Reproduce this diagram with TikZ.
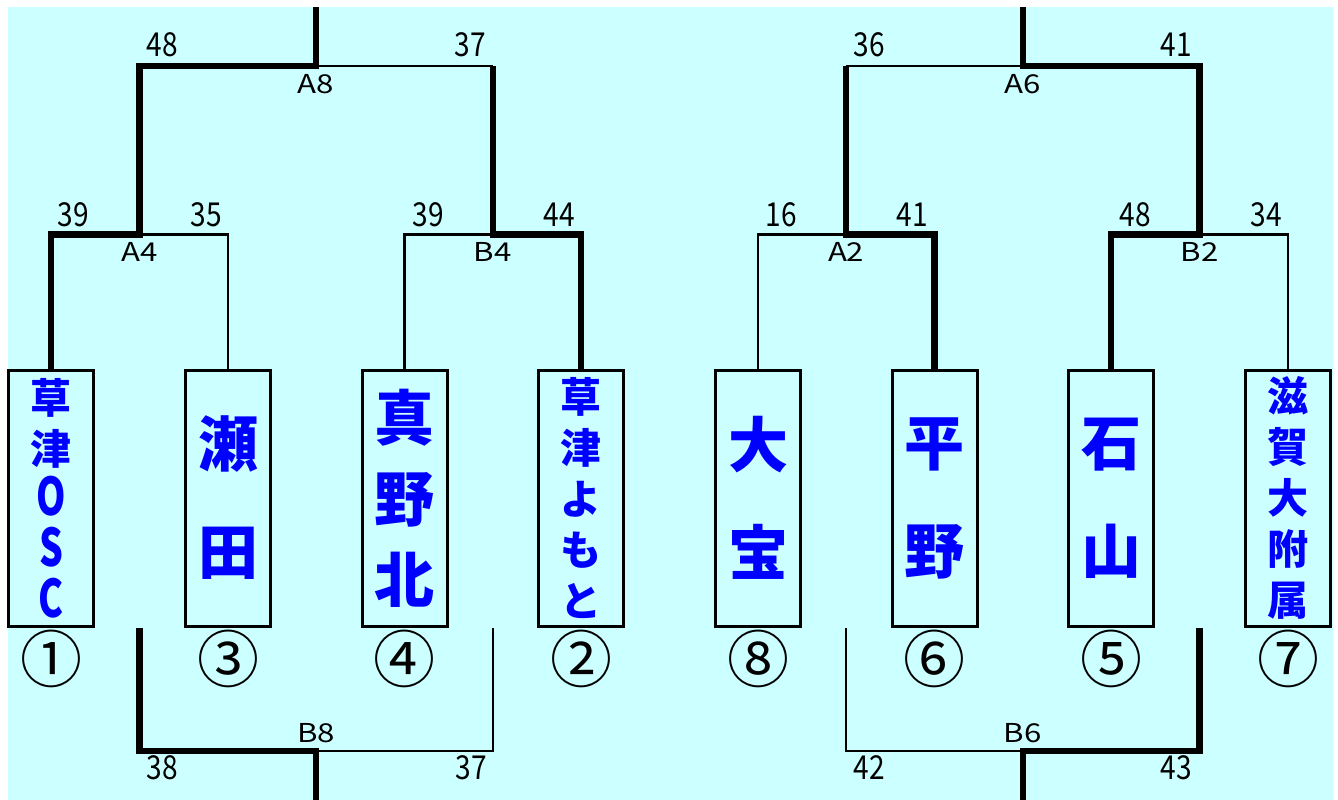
\documentclass[tikz,border=0pt]{standalone}
\usepackage{fontspec}
\setmainfont{Noto Sans CJK JP}
\newfontfamily\jpfont{Noto Sans CJK JP}
\newfontfamily\scorefont{Noto Sans CJK JP}[FakeStretch=0.85]
\newfontfamily\gamefont{Noto Sans CJK JP}[FakeStretch=1.2]
\usetikzlibrary{positioning,calc}
\definecolor{bgcyan}{RGB}{204,255,255}
\definecolor{teamblue}{RGB}{0,0,255}
\newcommand{\tallchar}[1]{{\fontsize{52}{51}\selectfont\scalebox{0.72}[1]{#1}}}

\begin{document}
\begin{tikzpicture}[x=1pt, y=-1pt,
    team/.style={draw, line width=3pt, fill=bgcyan, minimum width=85pt, minimum height=256pt, inner sep=0pt, align=center, text=teamblue},
    teamfive/.style={team, font=\jpfont\bfseries\fontsize{41}{51}\selectfont},
    teamthree/.style={team, font=\jpfont\bfseries\fontsize{60}{81}\selectfont},
    teamtwo/.style={team, font=\jpfont\bfseries\fontsize{60}{108}\selectfont},
    win/.style={line width=6.5pt},
    lose/.style={line width=2.5pt},
    score/.style={font=\scorefont\fontsize{33}{33}\selectfont},
    game/.style={font=\gamefont\fontsize{26}{26}\selectfont},
    seed/.style={font=\jpfont\fontsize{62}{62}\selectfont}
]

% Background
\useasboundingbox (0,0) rectangle (1338,800);
\fill[bgcyan] (8,7) rectangle (1333,800);

% Teams
\node[teamfive] (b1) at (51,498) {草\\津\\\tallchar{O}\\\tallchar{S}\\\tallchar{C}};
\node[teamtwo] (b3) at (228,498) {瀬\\田};
\node[teamthree] (b4) at (404.5,498) {真\\野\\北};
\node[teamfive] (b2) at (581,498) {草\\津\\よ\\も\\と};
\node[teamtwo] (b8) at (758,498) {大\\宝};
\node[teamtwo] (b6) at (934.5,498) {平\\野};
\node[teamtwo] (b5) at (1111,498) {石\\山};
\node[teamfive] (b7) at (1288,498) {滋\\賀\\大\\附\\属};

% Seeds
\node[seed] (s1) at (51,659) {①};
\node[seed] (s3) at (228,659) {③};
\node[seed] (s4) at (404.5,659) {④};
\node[seed] (s2) at (581,659) {②};
\node[seed] (s8) at (758,659) {⑧};
\node[seed] (s6) at (934.5,659) {⑥};
\node[seed] (s5) at (1111,659) {⑤};
\node[seed] (s7) at (1288,659) {⑦};

% Junctions
\coordinate (A4) at (139.5,234.5);
\coordinate (B4) at (492.75,234.5);
\coordinate (A2) at (846.15,234.5);
\coordinate (B2) at (1199.55,234.5);
\coordinate (A8) at (316.1,66);
\coordinate (A6) at (1022.85,66);
\coordinate (B8) at (316.1,751);
\coordinate (B6) at (1022.85,751);
\coordinate (topL) at (316.1,7);
\coordinate (topR) at (1022.85,7);
\coordinate (botL) at (316.1,800);
\coordinate (botR) at (1022.85,800);
\coordinate (B8a) at (139.5,628);
\coordinate (B8b) at (492.75,628);
\coordinate (B6a) at (846.15,628);
\coordinate (B6b) at (1199.55,628);

% Lost games
\draw[lose] (b3.north) |- (A4);
\draw[lose] (b4.north) |- (B4);
\draw[lose] (b8.north) |- (A2);
\draw[lose] (b7.north) |- (B2);
\draw[lose] (A8) -- (A8 -| B4);
\draw[lose] (A6) -- (A6 -| A2);
\draw[lose] (B8b) |- (B8);
\draw[lose] (B6a) |- (B6);

% Won games
\draw[win] (b1.north) |- (A4) |- (A8) -- (topL);
\draw[win] (b2.north) |- (B4) -- (B4 |- A8);
\draw[win] (b6.north) |- (A2) -- (A2 |- A6);
\draw[win] (b5.north) |- (B2) |- (A6) -- (topR);
\draw[win] (B8a) |- (B8) -- (botL);
\draw[win] (B6b) |- (B6) -- (botR);

% Game labels
\node[game] (gA8) at (316,84) {A8};
\node[game] (gA4) at (139.5,252) {A4};
\node[game] (gB4) at (492.75,252) {B4};
\node[game] (gA2) at (846.15,252) {A2};
\node[game] (gB2) at (1199.55,252) {B2};
\node[game] (gA6) at (1022.85,84) {A6};
\node[game] (gB8) at (316,733) {B8};
\node[game] (gB6) at (1022.85,733) {B6};

% Scores
\node[score] at (162,45) {48};
\node[score] at (470,45) {37};
\node[score] at (73,215) {39};
\node[score] at (206,215) {35};
\node[score] at (428,215) {39};
\node[score] at (559,215) {44};
\node[score] at (781,215) {16};
\node[score] at (912,215) {41};
\node[score] at (1135,215) {48};
\node[score] at (1266,215) {34};
\node[score] at (869,45) {36};
\node[score] at (1176,45) {41};
\node[score] at (162,768) {38};
\node[score] at (471,768) {37};
\node[score] at (869,768) {42};
\node[score] at (1176,768) {43};

\end{tikzpicture}
\end{document}
